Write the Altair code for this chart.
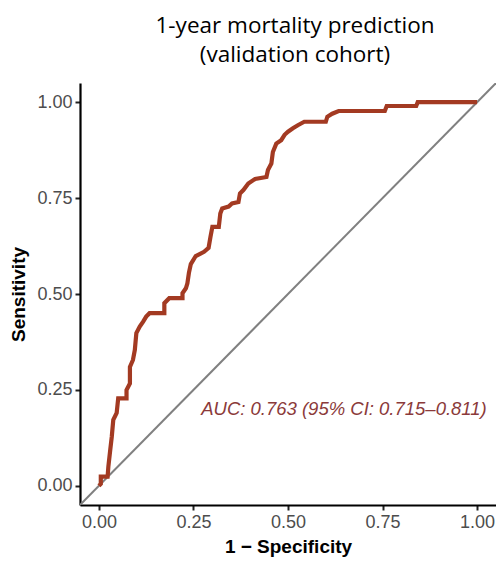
import altair as alt
import pandas as pd

# ROC curve corner points
fpr = [0.0, 0.005, 0.005, 0.023, 0.025, 0.03, 0.034, 0.038, 0.047, 0.051, 0.073, 0.073,
       0.082, 0.082, 0.09, 0.095, 0.099, 0.108, 0.117, 0.125, 0.134, 0.173, 0.173, 0.186,
       0.221, 0.221, 0.23, 0.234, 0.238, 0.243, 0.256, 0.278, 0.29, 0.295, 0.30, 0.317,
       0.321, 0.326, 0.343, 0.352, 0.369, 0.373, 0.382, 0.395, 0.413, 0.443, 0.447, 0.456,
       0.46, 0.469, 0.482, 0.491, 0.50, 0.513, 0.526, 0.543, 0.60, 0.604, 0.617, 0.634,
       0.756, 0.761, 0.839, 0.843, 1.0]
tpr = [0.0, 0.005, 0.024, 0.024, 0.05, 0.094, 0.128, 0.172, 0.19, 0.228, 0.228, 0.25,
       0.267, 0.31, 0.328, 0.354, 0.398, 0.415, 0.428, 0.441, 0.45, 0.45, 0.476, 0.489,
       0.489, 0.502, 0.515, 0.528, 0.555, 0.578, 0.599, 0.61, 0.62, 0.649, 0.675, 0.675,
       0.71, 0.723, 0.728, 0.736, 0.74, 0.762, 0.771, 0.788, 0.80, 0.805, 0.823, 0.84,
       0.87, 0.892, 0.901, 0.915, 0.923, 0.932, 0.94, 0.949, 0.949, 0.962, 0.97, 0.977,
       0.977, 0.99, 0.99, 1.0, 1.0]

diag_x = [-0.05, 1.05]
diag_y = [-0.05, 1.05]

tick_values = [0.0, 0.25, 0.5, 0.75, 1.0]
x_domain = [-0.05, 1.05]
y_domain = [-0.05, 1.05]

title_lines = ["1-year mortality prediction", "(validation cohort)"]
x_title = "1 \u2212 Specificity"
y_title = "Sensitivity"
auc_label = ["AUC: 0.763 (95% CI: 0.715\u20130.811)"]
auc_x = [0.648]
auc_y = [0.2]

roc_df = pd.DataFrame({"fpr": fpr, "tpr": tpr, "order": list(range(len(fpr)))})
diag_df = pd.DataFrame({"fpr": diag_x, "tpr": diag_y})
auc_df = pd.DataFrame({"fpr": auc_x, "tpr": auc_y, "label": auc_label})

x_enc = alt.X("fpr:Q", scale=alt.Scale(domain=x_domain, nice=False, zero=False),
              axis=alt.Axis(values=tick_values, format=".2f", title=x_title))
y_enc = alt.Y("tpr:Q", scale=alt.Scale(domain=y_domain, nice=False, zero=False),
              axis=alt.Axis(values=tick_values, format=".2f", title=y_title))

diag = alt.Chart(diag_df).mark_line(color="#808080", strokeWidth=2, clip=True).encode(
    x=x_enc, y=y_enc)

roc = alt.Chart(roc_df).mark_line(color="#A33A22", strokeWidth=4.2).encode(
    x=x_enc, y=y_enc, order="order:Q")

auc = alt.Chart(auc_df).mark_text(
    font="Liberation Sans", fontSize=18.5, fontStyle="italic", color="#8B3A3A",
    align="center", baseline="middle").encode(x=x_enc, y=y_enc, text="label:N")

chart = alt.layer(diag, roc, auc).properties(
    width=416, height=422,
    autosize=alt.AutoSizeParams(type="none"),
    padding={"left": 72, "top": 75, "right": 0, "bottom": 56},
    title=alt.TitleParams(text=title_lines, font="Open Sans", fontSize=22.5, fontWeight="normal",
                          color="black", anchor="middle", lineHeight=29, offset=17, dx=7),
).configure_view(stroke=None).configure_axis(
    grid=False, domainColor="black", domainWidth=2.2, tickColor="#222222", tickWidth=2,
    tickSize=5, labelFont="Liberation Sans", labelFontSize=18, labelColor="#4D4D4D",
    labelPadding=3, titleFont="Liberation Sans", titleFontSize=19, titleFontWeight="bold",
    titleColor="black",
).configure_axisX(titlePadding=6).configure_axisY(titlePadding=8)

chart.save("out.html", embed_options={"renderer": "svg", "actions": False})
